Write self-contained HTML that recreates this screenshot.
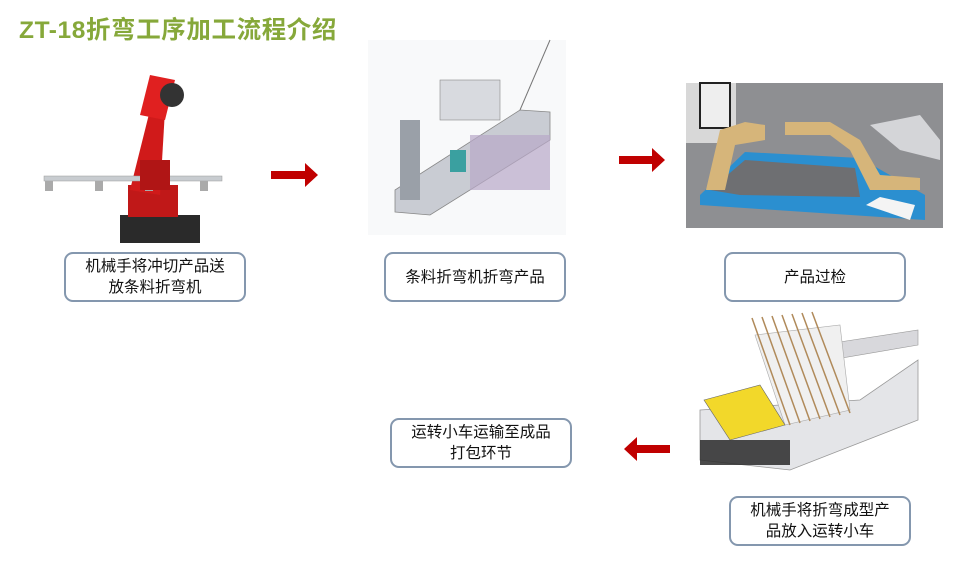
<!DOCTYPE html>
<html><head><meta charset="utf-8"><style>
html,body{margin:0;padding:0;background:#fff;}
body{width:964px;height:564px;position:relative;overflow:hidden;font-family:"Liberation Sans","Noto Sans CJK SC",sans-serif;}
.t{position:absolute;left:19px;top:11px;font-size:24.5px;font-weight:bold;color:#86a83a;letter-spacing:0.6px;}
.b{position:absolute;box-sizing:border-box;border:2.5px solid #8497ae;border-radius:9px;background:#fff;display:flex;align-items:center;justify-content:center;text-align:center;font-size:15.5px;line-height:21px;color:#111;}
svg{position:absolute;left:0;top:0;}
</style></head><body>
<svg width="964" height="564">
<g>
<rect x="120" y="215" width="80" height="28" fill="#2a2a2a"/>
<rect x="128" y="185" width="50" height="32" fill="#c01818"/>
<polygon points="130,190 150,110 165,110 160,195" fill="#d01a1a"/>
<polygon points="140,115 150,75 175,80 165,120" fill="#e02020"/>
<circle cx="172" cy="95" r="12" fill="#333"/>
<rect x="44" y="176" width="178" height="5" fill="#c8ccd0" stroke="#999" stroke-width="0.5"/>
<rect x="45" y="181" width="8" height="10" fill="#aaa"/><rect x="95" y="181" width="8" height="10" fill="#aaa"/><rect x="145" y="181" width="8" height="10" fill="#aaa"/><rect x="200" y="181" width="8" height="10" fill="#aaa"/>
<rect x="140" y="160" width="30" height="30" fill="#b01515"/>
</g>
<g>
<rect x="368" y="40" width="198" height="195" fill="#f8f9fa"/>
<polygon points="395,190 520,110 550,112 550,140 430,215 395,212" fill="#c9ccd3" stroke="#888" stroke-width="0.8"/>
<rect x="470" y="135" width="80" height="55" fill="#b8a8c8" opacity="0.7"/>
<rect x="400" y="120" width="20" height="80" fill="#9aa0a8"/>
<rect x="450" y="150" width="16" height="22" fill="#3aa0a0"/>
<rect x="440" y="80" width="60" height="40" fill="#d8dadf" stroke="#888" stroke-width="0.6"/>
<line x1="520" y1="110" x2="550" y2="40" stroke="#777" stroke-width="1"/>
</g>
<g>
<rect x="686" y="83" width="257" height="145" fill="#8e8f92"/>
<rect x="686" y="83" width="50" height="60" fill="#d8d8d8"/>
<rect x="700" y="83" width="30" height="45" fill="#eee" stroke="#222" stroke-width="2"/>
<polygon points="700,195 745,152 860,158 925,195 925,220 700,205" fill="#2b8fd0"/>
<polygon points="710,190 745,160 855,168 860,197 740,195" fill="#6e6f72"/>
<polygon points="706,190 720,130 745,122 765,125 765,140 735,145 725,190" fill="#d6b57a"/>
<polygon points="785,122 830,122 860,140 880,175 920,178 920,190 870,190 850,150 830,135 785,135" fill="#d6b57a"/>
<polygon points="870,125 920,115 940,140 940,160 900,150" fill="#e6e6ea" opacity="0.8"/>
<polygon points="866,205 880,197 915,205 910,220" fill="#f4f4f4"/>
</g>
<g>
<polygon points="700,410 860,400 918,360 918,420 790,470 700,460" fill="#e4e5e8" stroke="#999" stroke-width="0.8"/>
<polygon points="820,345 918,330 918,345 830,360" fill="#d8d8dc" stroke="#999" stroke-width="0.6"/>
<polygon points="755,335 840,325 850,410 785,425" fill="#f0f0f0" stroke="#aaa" stroke-width="0.6"/>
<g stroke="#b08a5a" stroke-width="1.5">
<line x1="752" y1="318" x2="790" y2="425"/><line x1="762" y1="317" x2="800" y2="423"/><line x1="772" y1="316" x2="810" y2="421"/><line x1="782" y1="315" x2="820" y2="419"/><line x1="792" y1="314" x2="830" y2="417"/><line x1="802" y1="313" x2="840" y2="415"/><line x1="812" y1="312" x2="850" y2="413"/>
</g>
<polygon points="704,400 760,385 785,425 730,440" fill="#f2d82a" stroke="#666" stroke-width="0.6"/>
<rect x="700" y="440" width="90" height="25" fill="#2a2a2a" opacity="0.85"/>
</g>
<polygon points="271,171 305,171 305,163 318,175 305,187 305,179 271,179" fill="#c00000"/>
<polygon points="619,156 652,156 652,148 665,160 652,172 652,164 619,164" fill="#c00000"/>
<polygon points="670,445 637,445 637,437 624,449 637,461 637,453 670,453" fill="#c00000"/>
</svg>
<div class="t">ZT-18折弯工序加工流程介绍</div>
<div class="b" style="left:64px;top:252px;width:182px;height:50px;">机械手将冲切产品送<br>放条料折弯机</div>
<div class="b" style="left:384px;top:252px;width:182px;height:50px;">条料折弯机折弯产品</div>
<div class="b" style="left:724px;top:252px;width:182px;height:50px;">产品过检</div>
<div class="b" style="left:390px;top:418px;width:182px;height:50px;">运转小车运输至成品<br>打包环节</div>
<div class="b" style="left:729px;top:496px;width:182px;height:50px;">机械手将折弯成型产<br>品放入运转小车</div>
</body></html>
